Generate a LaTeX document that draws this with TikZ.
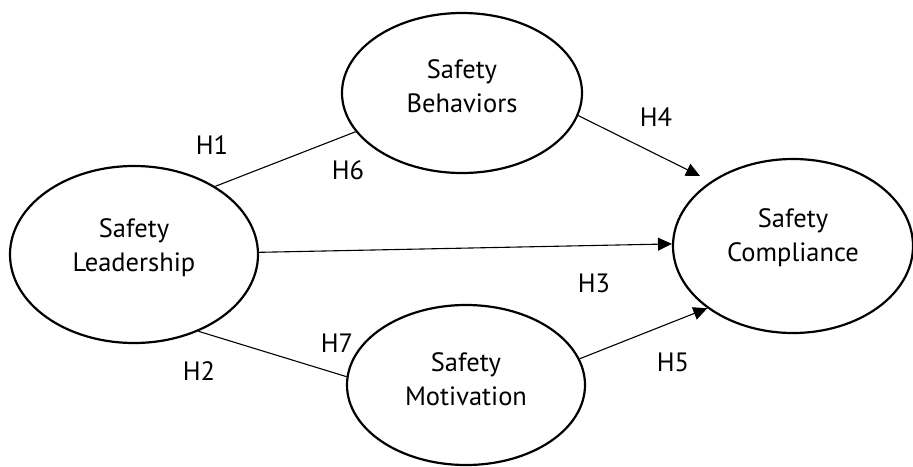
\documentclass[tikz,border=0pt]{standalone}
\usepackage{fontspec}
\setmainfont{PT Sans}
\usetikzlibrary{shapes.geometric,arrows.meta}
\begin{document}
\begin{tikzpicture}[x=1pt,y=-1pt,
  latent/.style={draw, line width=2.2pt, ellipse, inner sep=0pt},
  lbl/.style={font=\fontsize{26.5}{34}\selectfont, align=center, inner sep=0pt},
  hyp/.style={font=\fontsize{26.5}{30}\selectfont, inner sep=0pt},
  link/.style={line width=1.1pt},
  arr/.style={line width=1.1pt, -{Triangle[length=14pt,width=13pt]}}]
\useasboundingbox (0,0) rectangle (913,466);
\node[latent, minimum width=248pt, minimum height=177pt] (lead) at (134,254.5) {};
\node[latent, minimum width=240pt, minimum height=160pt] (beh) at (462,93) {};
\node[latent, minimum width=240pt, minimum height=174pt] (comp) at (793,246) {};
\node[latent, minimum width=238pt, minimum height=160pt] (mot) at (466,385) {};
\node[lbl, yshift=7pt] (leadT) at (lead) {Safety\\Leadership};
\node[lbl, yshift=7pt] (behT) at (beh) {Safety\\Behaviors};
\node[lbl, yshift=8pt] (compT) at (comp) {Safety\\Compliance};
\node[lbl, yshift=6pt] (motT) at (mot) {Safety\\Motivation};
\coordinate (h4tip) at (700,176);
\draw[link] (lead.40.2) -- (beh.200.1);
\draw[link] (lead.310.2) -- (mot.176.1);
\draw[arr] (lead.1.2) -- (comp.179);
\draw[arr] (beh.349.2) -- (h4tip);
\draw[arr] (mot.13.1) -- (comp.216.8);
\node[hyp] (h1) at (212,145) {H1};
\node[hyp] (h6) at (348,170) {H6};
\node[hyp] (h4) at (656,117) {H4};
\node[hyp] (h3) at (594,283) {H3};
\node[hyp] (h5) at (673,362) {H5};
\node[hyp] (h7) at (337,343) {H7};
\node[hyp] (h2) at (199,371) {H2};
\end{tikzpicture}
\end{document}
